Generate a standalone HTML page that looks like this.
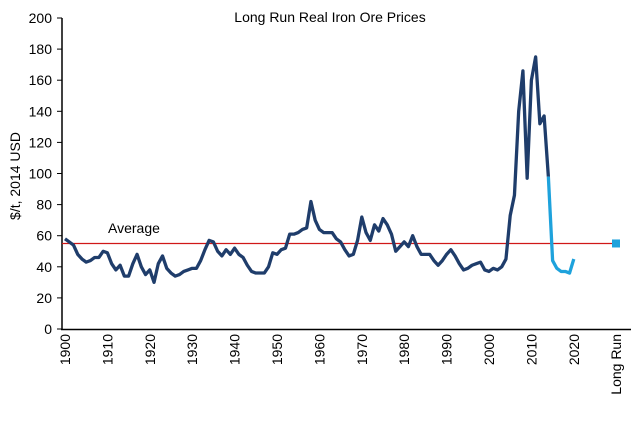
<!DOCTYPE html>
<html><head><meta charset="utf-8"><style>
body{margin:0;background:#fff;}
svg{display:block;font-family:"Liberation Sans",sans-serif;}
</style></head><body>
<svg id="chart" width="637" height="421" viewBox="0 0 637 421"></svg>
<script>
const years=[];for(let y=1900;y<=2014;y++)years.push(y);
const prices=[58,56,54,48,45,43,44,46,46,50,49,42,38,41,34,34,42,48,40,35,38,30,42,47,39,36,34,35,37,38,39,39,44,51,57,56,50,47,51,48,52,48,46,41,37,36,36,36,40,49,48,51,52,61,61,62,64,65,82,70,64,62,62,62,58,56,51,47,48,57,72,62,57,67,63,71,67,61,50,53,56,53,60,53,48,48,48,44,41,44,48,51,47,42,38,39,41,42,43,38,37,39,38,40,45,73,86,140,166,97,160,175,132,137,98];
const fYears=[2014,2015,2016,2017,2018,2019,2020];
const fPrices=[98,44,39,37,37,36,45];
const average=55;
const longRun=55;
const yTicks=[0,20,40,60,80,100,120,140,160,180,200];
const xTicks=[1900,1910,1920,1930,1940,1950,1960,1970,1980,1990,2000,2010,2020];
const NS="http://www.w3.org/2000/svg";
const svg=document.getElementById('chart');
const X=y=>65+(y-1900)*4.24;
const Y=v=>329-v*1.555;
const LRX=616;
function el(t,a,txt){const e=document.createElementNS(NS,t);for(const k in a)e.setAttribute(k,a[k]);if(txt!==undefined)e.textContent=txt;svg.appendChild(e);return e;}
let e;
e=el('text',{x:330,y:22,'text-anchor':'middle','font-size':14,fill:'#000'},'Long Run Real Iron Ore Prices');


e=el('text',{transform:'translate(20,176) rotate(-90)','text-anchor':'middle','font-size':14,fill:'#000'},'$/t, 2014 USD');


yTicks.forEach(v=>{
 e=el('line',{x1:57,x2:62,y1:Y(v),y2:Y(v),stroke:'#000','stroke-width':1});
 
 
 e=el('text',{x:52,y:Y(v)+5,'text-anchor':'end','font-size':14,fill:'#000'},v);
 
 
});
xTicks.forEach(v=>{
 e=el('text',{transform:`translate(${X(v)+5},334) rotate(-90)`,'text-anchor':'end','font-size':14,fill:'#000'},v);
 
 
});
e=el('text',{transform:`translate(${LRX+5},334) rotate(-90)`,'text-anchor':'end','font-size':14,fill:'#000'},'Long Run');


e=el('line',{x1:62,x2:62,y1:18,y2:330,stroke:'#000','stroke-width':1.5});


e=el('line',{x1:61,x2:631,y1:329.5,y2:329.5,stroke:'#000','stroke-width':1.5});


e=el('line',{x1:62,x2:LRX,y1:Y(average),y2:Y(average),stroke:'#d01818','stroke-width':1.2});


e=el('text',{x:108,y:233,'font-size':14,fill:'#000'},'Average');


e=el('polyline',{points:years.map((y,i)=>X(y)+','+Y(prices[i])).join(' '),fill:'none',stroke:'#1f3d6b','stroke-width':3.3,'stroke-linejoin':'round'});


e=el('polyline',{points:fYears.map((y,i)=>X(y)+','+Y(fPrices[i])).join(' '),fill:'none',stroke:'#1ea2dc','stroke-width':3.3,'stroke-linejoin':'round'});


e=el('rect',{x:LRX-4,y:Y(longRun)-4,width:8,height:8,fill:'#1ea2dc'});


</script>
</body></html>
